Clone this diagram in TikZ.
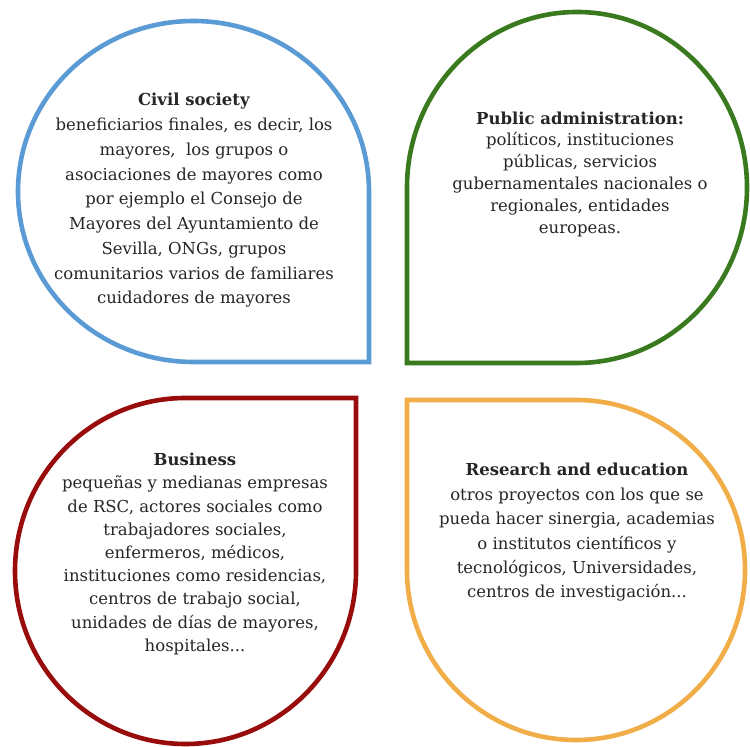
\documentclass[tikz,border=0pt]{standalone}
\usepackage{fontspec}
\setmainfont{DejaVu Serif}
\definecolor{civilblue}{HTML}{5B9BD5}
\definecolor{publicgreen}{HTML}{3A7A1E}
\definecolor{businessred}{HTML}{980C0C}
\definecolor{researchgold}{HTML}{F0AD48}
\definecolor{bodytext}{HTML}{262626}
\tikzset{
  drop/.style={line width=4.6pt, line join=miter},
  blurb/.style={align=center, text=bodytext, inner sep=0pt},
}
\begin{document}
\begin{tikzpicture}[x=1pt,y=1pt]
\useasboundingbox[fill=white] (0,0) rectangle (750,747);

% four teardrops, each with its square corner pointing to the middle
\draw[drop, civilblue] (369,555.5) arc[start angle=0, end angle=270, x radius=175.5, y radius=170.5] -- (369,385) -- cycle;
\draw[drop, publicgreen] (577,384) arc[start angle=-90, end angle=180, x radius=170, y radius=175.5] -- (407,384) -- cycle;
\draw[drop, businessred] (185.5,349) arc[start angle=90, end angle=360, x radius=170.5, y radius=173] -- (356,349) -- cycle;
\draw[drop, researchgold] (407,177) arc[start angle=180, end angle=450, x radius=169, y radius=170] -- (407,347) -- cycle;

\node[blurb, font=\fontsize{16.5}{24.75}\selectfont] (civil) at (194,546.5) {%
  \textbf{Civil society}\\
  beneficiarios finales, es decir, los\\
  mayores,~ los grupos o\\
  asociaciones de mayores como\\
  por ejemplo el Consejo de\\
  Mayores del Ayuntamiento de\\
  Sevilla, ONGs, grupos\\
  comunitarios varios de familiares\\
  cuidadores de mayores};

\node[blurb, font=\fontsize{16.5}{21.8}\selectfont] (public) at (580,573) {%
  \textbf{Public administration:}\\
  políticos, instituciones\\
  públicas, servicios\\
  gubernamentales nacionales o\\
  regionales, entidades\\
  europeas.};

\node[blurb, font=\fontsize{16.5}{23.2}\selectfont] (business) at (195,193) {%
  \textbf{Business}\\
  pequeñas y medianas empresas\\
  de RSC, actores sociales como\\
  trabajadores sociales,\\
  enfermeros, médicos,\\
  instituciones como residencias,\\
  centros de trabajo social,\\
  unidades de días de mayores,\\
  hospitales...};

\node[blurb, font=\fontsize{16.5}{24.4}\selectfont] (research) at (577,214.5) {%
  \textbf{Research and education}\\
  otros proyectos con los que se\\
  pueda hacer sinergia, academias\\
  o institutos científicos y\\
  tecnológicos, Universidades,\\
  centros de investigación...};
\end{tikzpicture}
\end{document}
